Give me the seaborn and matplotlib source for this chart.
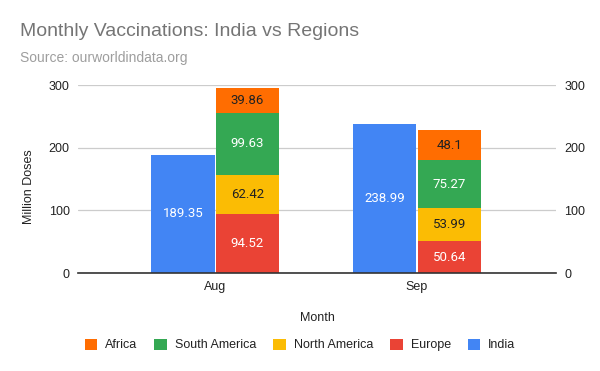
import matplotlib
matplotlib.use("Agg")
import matplotlib.pyplot as plt
from matplotlib.patches import Patch
import seaborn as sns
import pandas as pd

# -------------------------
# Data
# -------------------------

months = ["Aug", "Sep"]
india = [189.35, 238.99]

# stacked regions, bottom to top
regions = ["Europe", "North America", "South America", "Africa"]
region_values = {
    "Europe": [94.52, 50.64],
    "North America": [62.42, 53.99],
    "South America": [99.63, 75.27],
    "Africa": [39.86, 48.1],
}

colors = {
    "India": "#4285F4",
    "Europe": "#EA4335",
    "North America": "#FBBC04",
    "South America": "#34A853",
    "Africa": "#FF6D01",
}
label_colors = {
    "India": "white",
    "Europe": "white",
    "North America": "#222222",
    "South America": "white",
    "Africa": "#222222",
}
legend_order = ["Africa", "South America", "North America", "Europe", "India"]

# -------------------------
# Figure
# -------------------------

sns.set_theme(style="white")
plt.rcParams["font.family"] = ["Liberation Sans", "DejaVu Sans"]

fig = plt.figure(figsize=(6, 3.71), dpi=100)
ax = fig.add_axes([0.13, 0.264, 0.797, 0.506])

hue_order = ["India", "Regions"]
bar_kw = dict(order=months, hue_order=hue_order, dodge=True, width=0.64,
              gap=0.02, legend=False, linewidth=0, saturation=1, ax=ax)

# cumulative totals per layer, drawn from the top layer down
cum = {}
running = [0.0, 0.0]
for r in regions:
    running = [a + b for a, b in zip(running, region_values[r])]
    cum[r] = list(running)

label_jobs = []
for i, r in enumerate(reversed(regions)):
    rows = [{"Month": m, "kind": "Regions", "val": v} for m, v in zip(months, cum[r])]
    if i == 0:
        rows = [{"Month": m, "kind": "India", "val": v} for m, v in zip(months, india)] + rows
    df = pd.DataFrame(rows)
    sns.barplot(data=df, x="Month", y="val", hue="kind",
                palette={"India": colors["India"], "Regions": colors[r]}, **bar_kw)
    label_jobs.append((r, ax.containers[-1]))
    if i == 0:
        label_jobs.append(("India", ax.containers[-2]))

for name, cont in label_jobs:
    for j, p in enumerate(cont.patches):
        if name == "India":
            y = india[j] / 2
            txt = f"{india[j]:g}"
        else:
            v = region_values[name][j]
            y = cum[name][j] - v / 2
            txt = f"{v:g}"
        ax.text(p.get_x() + p.get_width() / 2, y, txt, ha="center", va="center",
                color=label_colors[name], fontsize=9.5, family=["Roboto", "DejaVu Sans"])

# -------------------------
# Axes styling
# -------------------------

ax.set_ylim(0, 300)
ax.set_xlim(-0.68, 1.69)
ax.set_yticks([0, 100, 200, 300])
ax.yaxis.grid(True, color="#cccccc", linewidth=0.9)
ax.set_axisbelow(True)
for s in ["top", "right", "left"]:
    ax.spines[s].set_visible(False)
ax.spines["bottom"].set_color("#333333")
ax.spines["bottom"].set_linewidth(1.2)
ax.tick_params(axis="both", length=0, labelsize=9, colors="#222222")
ax.tick_params(axis="y", pad=6)
ax.tick_params(axis="x", pad=6)
ax.tick_params(axis="y", labelright=True, right=False)

ax.set_ylabel("Million Doses", fontsize=9, color="#222222")
ax.yaxis.set_label_coords(-0.09, 0.46)
ax.set_xlabel("Month", fontsize=9, color="#222222")
ax.xaxis.set_label_coords(0.5, -0.205)

fig.text(0.033, 0.915, "Monthly Vaccinations: India vs Regions", fontsize=14,
         color="#757575", va="center")
fig.text(0.033, 0.845, "Source: ourworldindata.org", fontsize=10,
         color="#9e9e9e", va="center")

handles = [Patch(facecolor=colors[n], edgecolor="none") for n in legend_order]
fig.legend(handles, legend_order, loc="center", bbox_to_anchor=(0.5, 0.07),
           ncol=5, frameon=False, fontsize=9, handlelength=1.0, handleheight=1.0,
           handletextpad=0.65, columnspacing=1.35, labelcolor="#222222")

plt.savefig("out.png", dpi=100)
